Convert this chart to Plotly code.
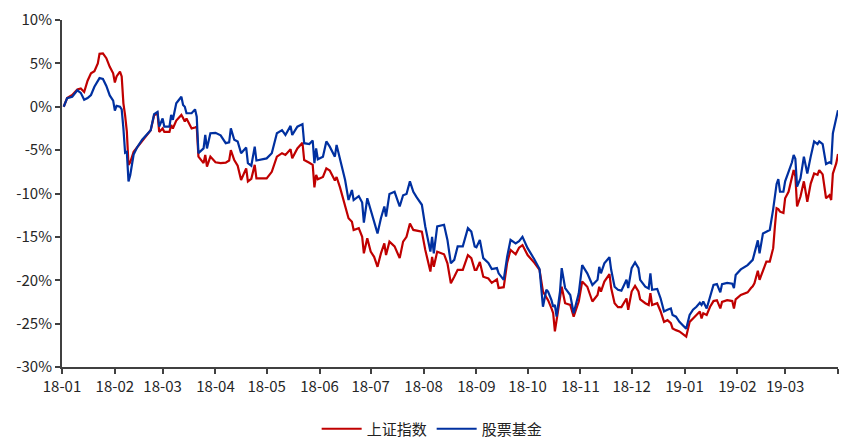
import plotly.graph_objects as go

dates = [
    "2018-01-02","2018-01-04","2018-01-07","2018-01-10","2018-01-12","2018-01-14","2018-01-16","2018-01-18","2018-01-20","2018-01-22","2018-01-23","2018-01-25","2018-01-27","2018-01-29","2018-01-31",
    "2018-02-01","2018-02-02","2018-02-04","2018-02-05","2018-02-06","2018-02-07","2018-02-08","2018-02-09","2018-02-10","2018-02-12","2018-02-14","2018-02-17","2018-02-22","2018-02-24","2018-02-26","2018-02-27",
    "2018-03-01","2018-03-02","2018-03-05","2018-03-06","2018-03-07","2018-03-09","2018-03-12","2018-03-13","2018-03-14","2018-03-15","2018-03-18","2018-03-20","2018-03-21","2018-03-22","2018-03-25","2018-03-26","2018-03-27","2018-03-29",
    "2018-04-01","2018-04-04","2018-04-07","2018-04-09","2018-04-10","2018-04-12","2018-04-14","2018-04-16","2018-04-19","2018-04-20","2018-04-22","2018-04-24","2018-04-25",
    "2018-05-01","2018-05-04","2018-05-07","2018-05-10","2018-05-12","2018-05-15","2018-05-16","2018-05-19","2018-05-22","2018-05-23","2018-05-26","2018-05-28","2018-05-29","2018-05-30","2018-05-31",
    "2018-06-03","2018-06-05","2018-06-07","2018-06-10","2018-06-11","2018-06-13","2018-06-16","2018-06-18","2018-06-20","2018-06-21","2018-06-24","2018-06-26","2018-06-27","2018-06-29",
    "2018-07-01","2018-07-03","2018-07-05","2018-07-07","2018-07-09","2018-07-10","2018-07-12","2018-07-15","2018-07-18","2018-07-20","2018-07-22","2018-07-24","2018-07-26","2018-07-28","2018-07-31",
    "2018-08-02","2018-08-05","2018-08-06","2018-08-07","2018-08-09","2018-08-13","2018-08-15","2018-08-17","2018-08-19","2018-08-21","2018-08-24","2018-08-27","2018-08-29","2018-08-31",
    "2018-09-01","2018-09-03","2018-09-05","2018-09-08","2018-09-10","2018-09-13","2018-09-14","2018-09-17","2018-09-19","2018-09-21","2018-09-24","2018-09-26","2018-09-28",
    "2018-10-01","2018-10-05","2018-10-08","2018-10-10","2018-10-12","2018-10-13","2018-10-15","2018-10-16","2018-10-17","2018-10-18","2018-10-19","2018-10-20","2018-10-21","2018-10-23","2018-10-26","2018-10-28","2018-10-31",
    "2018-11-02","2018-11-05","2018-11-08","2018-11-11","2018-11-12","2018-11-13","2018-11-15","2018-11-18","2018-11-19","2018-11-21","2018-11-23","2018-11-25","2018-11-28","2018-11-29",
    "2018-12-01","2018-12-03","2018-12-05","2018-12-06","2018-12-09","2018-12-11","2018-12-12","2018-12-13","2018-12-16","2018-12-18","2018-12-20","2018-12-22","2018-12-24","2018-12-25","2018-12-27","2018-12-29",
    "2019-01-02","2019-01-04","2019-01-06","2019-01-08","2019-01-10","2019-01-11","2019-01-12","2019-01-14","2019-01-16","2019-01-18","2019-01-20","2019-01-22","2019-01-23","2019-01-26","2019-01-29","2019-01-30","2019-01-31",
    "2019-02-03","2019-02-07","2019-02-09","2019-02-10","2019-02-11","2019-02-13","2019-02-14","2019-02-16","2019-02-18","2019-02-20","2019-02-22","2019-02-23","2019-02-24","2019-02-25","2019-02-26","2019-02-28",
    "2019-03-01","2019-03-03","2019-03-05","2019-03-06","2019-03-07","2019-03-08","2019-03-10","2019-03-12","2019-03-14","2019-03-16","2019-03-18","2019-03-20","2019-03-21","2019-03-23","2019-03-25","2019-03-27","2019-03-28","2019-03-29","2019-03-31","2019-04-01",
]

# 上证指数 cumulative return (%)
sse = [
    0, 1.0, 1.35, 2.0, 2.1, 1.7, 3.0, 3.85, 4.1, 5.0, 6.1, 6.15, 5.6, 4.6, 3.85,
    2.8, 3.5, 4.05, 3.5, 0.4, -1.0, -2.8, -6.7, -6.4, -5.2, -4.7, -4.0, -2.7, -1.0, -0.75, -2.9,
    -2.5, -2.9, -2.9, -2.1, -2.5, -1.6, -0.95, -1.3, -1.7, -1.35, -2.5, -2.4, -2.3, -5.75, -6.5, -5.55, -6.9, -5.75,
    -6.4, -6.5, -6.45, -6.2, -5.0, -6.15, -6.8, -8.45, -7.1, -8.6, -8.3, -6.7, -8.25,
    -8.25, -7.5, -5.75, -5.35, -5.55, -4.9, -5.95, -4.8, -4.15, -6.15, -6.45, -6.7, -9.3, -7.85, -8.35,
    -8.1, -7.1, -7.35, -8.5, -8.1, -9.3, -11.5, -12.85, -13.25, -14.2, -14.0, -15.0, -16.9, -15.15,
    -16.7, -17.3, -18.45, -16.9, -15.75, -17.1, -15.55, -16.1, -17.45, -15.55, -15.0, -13.45, -14.2, -14.3, -14.4,
    -16.5, -19.0, -17.3, -18.45, -16.7, -17.0, -18.05, -20.35, -19.6, -18.8, -18.8, -17.1, -17.45, -18.8,
    -18.8, -17.9, -19.6, -19.8, -20.3, -19.9, -20.9, -20.8, -18.0, -16.5, -17.0, -16.25, -15.95,
    -17.1, -18.0, -18.8, -21.3, -21.9, -22.3, -23.25, -23.8, -25.9, -24.5, -23.05, -22.0, -20.75, -22.65, -22.85, -24.2, -22.45,
    -20.15, -20.75, -22.45, -21.7, -20.75, -21.3, -20.15, -19.3, -20.9, -22.65, -23.1, -23.1, -22.1, -23.4,
    -21.3, -20.65, -21.3, -22.2, -22.65, -22.85, -21.5, -22.85, -22.65, -23.6, -24.8, -24.6, -24.95, -25.55, -25.75, -25.9,
    -26.5, -24.8, -24.4, -24.0, -23.6, -24.4, -23.8, -24.0, -23.05, -22.4, -22.3, -23.25, -22.5, -22.3, -22.4, -23.25, -22.2,
    -21.7, -21.4, -20.9, -20.7, -20.35, -18.9, -19.95, -18.8, -17.85, -17.85, -16.3, -13.8, -11.7, -11.8, -12.1, -12.25,
    -10.55, -9.8, -8.05, -7.3, -8.0, -11.5, -10.35, -8.6, -10.95, -8.85, -7.7, -7.85, -7.3, -7.8, -10.55, -10.2, -10.75, -7.7, -6.5, -5.45,
]

# 股票基金 cumulative return (%)
fund = [
    0, 1.0, 1.15, 1.9, 1.6, 0.8, 1.0, 1.35, 2.3, 2.9, 3.3, 3.2, 2.4, 1.3, 0.7,
    -0.45, 0.1, 0.0, -0.3, -2.5, -5.3, -5.2, -8.6, -7.9, -5.5, -4.7, -3.8, -2.7, -0.85, -0.6, -2.3,
    -1.35, -2.3, -2.3, -0.95, -1.5, 0.4, 1.15, 0.2, 0.0, -0.75, -0.75, -0.3, -1.15, -5.35, -4.8, -3.25, -4.8, -3.05,
    -3.0, -3.3, -4.2, -4.1, -2.5, -3.8, -4.0, -5.35, -4.7, -6.5, -6.8, -4.6, -6.2,
    -5.95, -5.35, -3.05, -2.7, -3.25, -2.2, -3.25, -2.3, -2.0, -4.2, -4.3, -3.9, -6.5, -4.8, -6.05,
    -5.75, -4.0, -4.6, -5.75, -4.4, -5.95, -8.45, -10.75, -9.6, -10.75, -10.3, -11.05, -13.35, -10.55,
    -11.9, -13.0, -14.6, -12.85, -11.5, -12.65, -10.05, -9.8, -11.5, -10.2, -10.05, -8.6, -9.8, -10.45, -11.3,
    -13.8, -16.7, -15.0, -16.9, -13.8, -13.6, -15.35, -18.05, -17.65, -16.1, -16.1, -14.0, -14.4, -16.1,
    -16.2, -15.35, -17.45, -18.0, -18.7, -18.6, -19.2, -19.95, -17.3, -15.35, -15.75, -15.5, -15.0,
    -16.3, -17.6, -18.7, -23.05, -21.1, -21.3, -22.3, -23.05, -22.85, -24.2, -22.5, -21.3, -18.6, -20.9, -21.7, -23.8, -21.5,
    -18.25, -19.2, -20.55, -19.95, -18.45, -19.2, -18.05, -17.35, -18.8, -20.75, -21.1, -21.2, -19.95, -20.9,
    -18.6, -17.95, -18.6, -19.95, -20.75, -20.95, -19.2, -21.1, -21.0, -22.1, -23.6, -23.4, -23.25, -24.0, -24.2, -24.8,
    -25.6, -24.0, -23.4, -23.05, -22.6, -22.85, -22.45, -23.25, -21.9, -20.55, -20.45, -21.4, -20.45, -20.3, -20.4, -20.9, -19.4,
    -18.75, -18.25, -17.9, -17.65, -16.9, -15.4, -16.9, -14.6, -14.4, -14.2, -11.8, -10.2, -8.9, -8.35, -9.8, -9.8,
    -8.6, -7.5, -6.4, -5.55, -6.0, -9.2, -8.25, -5.75, -7.7, -5.75, -4.0, -4.3, -4.0, -4.3, -6.6, -6.4, -6.5, -3.05, -1.5, -0.4,
]

assert len(dates) == len(sse) == len(fund), (len(dates), len(sse), len(fund))

month_ticks = [
    "2018-01-01","2018-02-01","2018-03-01","2018-04-01","2018-05-01","2018-06-01",
    "2018-07-01","2018-08-01","2018-09-01","2018-10-01","2018-11-01","2018-12-01",
    "2019-01-01","2019-02-01","2019-03-01","2019-04-01",
]
month_labels = ["18-01","18-02","18-03","18-04","18-05","18-06","18-07","18-08",
                "18-09","18-10","18-11","18-12","19-01","19-02","19-03",""]

y_ticks = [10, 5, 0, -5, -10, -15, -20, -25, -30]
y_labels = [f"{v}%" for v in y_ticks]

series_names = ["上证指数", "股票基金"]
series_colors = ["#C00000", "#0030A0"]

fig = go.Figure()
for name, vals, col in zip(series_names, [sse, fund], series_colors):
    fig.add_trace(go.Scatter(x=dates, y=vals, mode="lines", name=name,
                             line=dict(color=col, width=2.2)))

axis_col = "#404040"
fig.update_layout(
    width=860, height=440,
    margin=dict(l=62, r=22, t=20, b=73, autoexpand=False),
    plot_bgcolor="white", paper_bgcolor="white",
    font=dict(family="Noto Sans CJK SC, Noto Sans, sans-serif", size=15, color="#262626"),
    showlegend=True,
    legend=dict(orientation="h", x=0.477, xanchor="center",
                yref="container", y=0.025, yanchor="middle",
                font=dict(size=15, color="#222222"), itemwidth=40, traceorder="normal"),
    xaxis=dict(
        type="date", range=["2018-01-01", "2019-04-01"],
        tickmode="array", tickvals=month_ticks, ticktext=month_labels,
        showgrid=False, zeroline=False,
        showline=True, linecolor=axis_col, linewidth=2,
        ticks="outside", ticklen=5, tickwidth=1.5, tickcolor=axis_col,
        tickfont=dict(size=15, color="#262626"),
    ),
    yaxis=dict(
        range=[-30, 10], tickmode="array", tickvals=y_ticks, ticktext=y_labels,
        showgrid=False, zeroline=False,
        showline=True, linecolor=axis_col, linewidth=2,
        ticks="outside", ticklen=5, tickwidth=1.5, tickcolor=axis_col,
        tickfont=dict(size=15, color="#262626"),
    ),
)

fig.write_html("out.html")
